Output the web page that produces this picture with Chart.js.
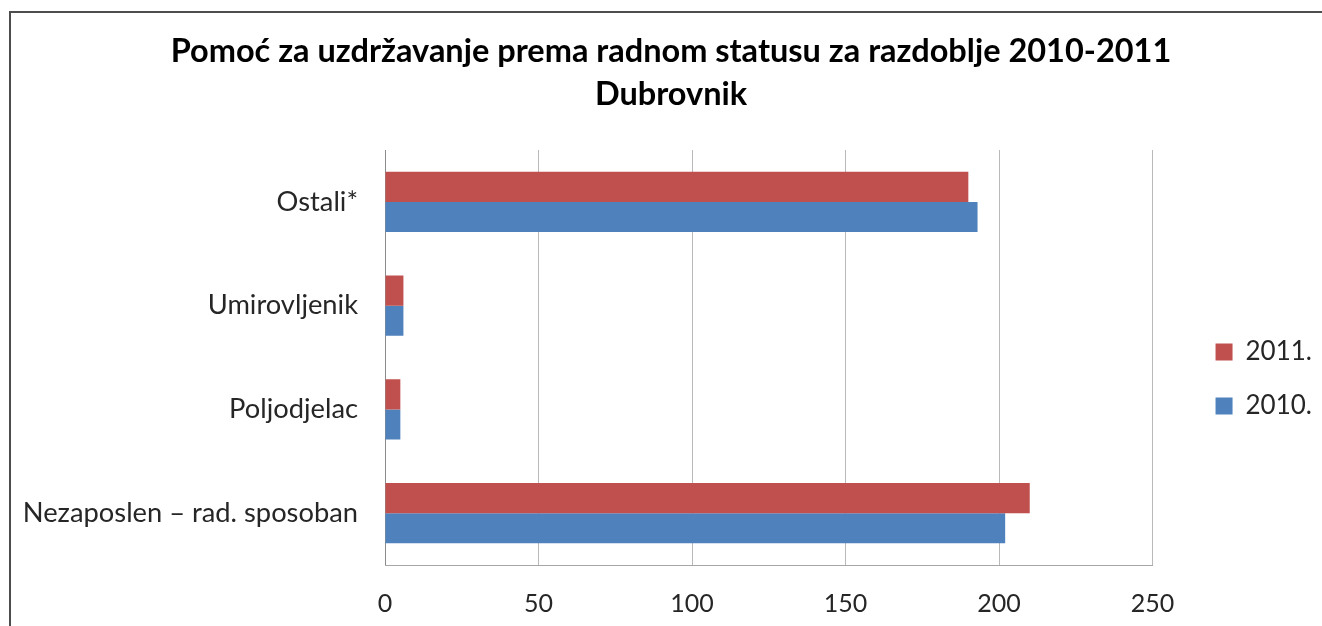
<!DOCTYPE html>
<html>
<head>
<meta charset="utf-8">
<script src="https://cdn.jsdelivr.net/npm/chart.js@4/dist/chart.umd.min.js"></script>
<style>
  html, body { margin: 0; padding: 0; background: #ffffff; }
  #wrap { width: 1322px; height: 626px; position: relative; }
</style>
</head>
<body>
<div id="wrap"><canvas id="c" width="1322" height="626"></canvas></div>
<script>
const categories = ["Ostali*", "Umirovljenik", "Poljodjelac", "Nezaposlen – rad. sposoban"];
const values2011 = [190, 6, 5, 210];
const values2010 = [193, 6, 5, 202];
const seriesLabels = ["2011.", "2010."];
const xTicks = [0, 50, 100, 150, 200, 250];
const titleLines = ["Pomoć za uzdržavanje prema radnom statusu za razdoblje 2010-2011", "Dubrovnik"];

const FONT = "Lato, 'Open Sans', sans-serif";

const framePlugin = {
  id: 'frame',
  beforeDraw(chart) {
    const ctx = chart.ctx;
    ctx.save();
    ctx.fillStyle = '#ffffff';
    ctx.fillRect(0, 0, chart.width, chart.height);
    ctx.strokeStyle = '#4d4d4d';
    ctx.lineWidth = 2;
    ctx.beginPath();
    ctx.moveTo(10, chart.height);
    ctx.lineTo(10, 12);
    ctx.lineTo(chart.width, 12);
    ctx.stroke();
    ctx.restore();
  }
};

new Chart(document.getElementById('c'), {
  type: 'bar',
  data: {
    labels: categories,
    datasets: [
      { label: seriesLabels[0], data: values2011, backgroundColor: '#c0504d', borderColor: '#c0504d', borderWidth: 0, xAxisID: 'x', yAxisID: 'y' },
      { label: seriesLabels[1], data: values2010, backgroundColor: '#4f81bd', borderColor: '#4f81bd', borderWidth: 0, xAxisID: 'x', yAxisID: 'y' }
    ]
  },
  options: {
    indexAxis: 'y',
    responsive: false,
    animation: false,
    devicePixelRatio: 1,
    layout: { padding: { left: 20, right: 0, top: 0, bottom: 0 } },
    datasets: { bar: { categoryPercentage: 0.58, barPercentage: 1.0 } },
    scales: {
      y: {
        type: 'category',
        position: 'left',
        grid: { display: false, drawTicks: false },
        border: { display: true, color: '#8c8c8c', width: 1 },
        ticks: { color: '#262626', font: { family: FONT, size: 27.3 }, padding: 27 },
        afterFit(s) { s.width = 365; }
      },
      y2: {
        type: 'category',
        position: 'right',
        weight: 0,
        grid: { display: false, drawTicks: false },
        border: { display: false },
        ticks: { display: false },
        afterFit(s) { s.width = 35; }
      },
      x: {
        type: 'linear',
        position: 'bottom',
        min: 0,
        max: 250,
        afterBuildTicks(s) { s.ticks = xTicks.map(v => ({ value: v })); },
        grid: { display: true, color: '#b9b9b9', lineWidth: 1, drawTicks: false },
        border: { display: true, color: '#a6a6a6', width: 1 },
        ticks: { color: '#262626', font: { family: FONT, size: 25 }, padding: 24 },
        afterFit(s) { s.height = 61; }
      }
    },
    plugins: {
      title: {
        display: true,
        text: titleLines,
        color: '#000000',
        font: { family: FONT, size: 32.5, weight: 'bold', lineHeight: '43px' },
        padding: { top: 30.5, bottom: 33.5 }
      },
      legend: {
        display: true,
        position: 'right',
        fullSize: false,
        align: 'center',
        title: { display: true, text: ' ', font: { size: 12 }, padding: { top: 28.6, bottom: 0 } },
        labels: {
          boxWidth: 17,
          boxHeight: 17,
          padding: 28,
          color: '#262626',
          font: { family: FONT, size: 26 }
        }
      },
      tooltip: { enabled: false }
    }
  },
  plugins: [framePlugin]
});
</script>
</body>
</html>
